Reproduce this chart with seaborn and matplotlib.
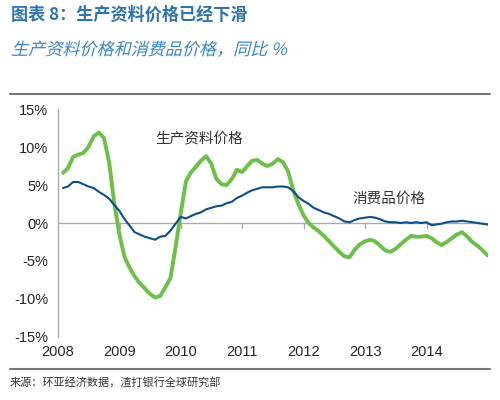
import pandas as pd
import matplotlib
matplotlib.use("Agg")
import matplotlib.pyplot as plt
from matplotlib.textpath import TextPath
from matplotlib.patches import PathPatch
from matplotlib.font_manager import FontProperties
from matplotlib.transforms import Affine2D
import seaborn as sns

# 月度同比 %, 2008-01 .. 2014-12
months = pd.date_range("2008-01-31", periods=84, freq="ME")

producer = [
    6.6, 7.2, 8.7, 9.0, 9.2, 10.0, 11.4, 11.9, 11.2, 8.0, 2.7, -1.5,
    -4.5, -5.8, -7.0, -7.9, -8.6, -9.3, -9.8, -9.6, -8.5, -7.2, -3.2, 1.3,
    5.5, 6.6, 7.4, 8.2, 8.8, 7.8, 5.8, 5.1, 5.0, 5.8, 7.0, 6.7,
    7.5, 8.2, 8.3, 7.8, 7.5, 7.8, 8.4, 8.0, 6.8, 4.3, 2.5, 1.0,
    0.0, -0.6, -1.1, -1.7, -2.4, -3.1, -3.8, -4.4, -4.5, -3.5, -2.8, -2.4,
    -2.2, -2.4, -3.0, -3.6, -3.8, -3.4, -2.8, -2.2, -1.7, -1.8, -1.8, -1.7,
    -2.0, -2.5, -2.9, -2.5, -2.0, -1.5, -1.2, -1.8, -2.5, -3.0, -3.6, -4.3,
]

consumer = [
    4.6, 4.8, 5.4, 5.4, 5.1, 4.8, 4.6, 4.1, 3.7, 3.2, 2.4, 1.6,
    0.5, -0.3, -1.2, -1.5, -1.8, -2.0, -2.2, -1.8, -1.7, -1.0, -0.1, 0.8,
    0.6, 0.9, 1.2, 1.4, 1.8, 2.0, 2.2, 2.3, 2.6, 2.8, 3.3, 3.6,
    4.0, 4.3, 4.5, 4.7, 4.7, 4.7, 4.8, 4.8, 4.7, 4.2, 3.4, 2.9,
    2.5, 2.0, 1.7, 1.4, 1.2, 0.9, 0.6, 0.2, 0.1, 0.4, 0.6, 0.7,
    0.8, 0.7, 0.5, 0.2, 0.1, 0.1, 0.0, 0.1, 0.0, 0.1, 0.0, 0.1,
    -0.3, -0.2, -0.1, 0.1, 0.2, 0.2, 0.3, 0.2, 0.1, 0.0, -0.1, -0.2,
]

years = [2008, 2009, 2010, 2011, 2012, 2013, 2014]
yticks = [-15, -10, -5, 0, 5, 10, 15]

sns.set_style("white")
plt.rcParams["font.family"] = ["Noto Sans CJK SC", "DejaVu Sans"]

df = pd.DataFrame({"date": months, "生产资料价格": producer, "消费品价格": consumer})

fig = plt.figure(figsize=(5, 4), dpi=100)
ax = fig.add_axes([0.116, 0.1575, 0.86, 0.57])

sns.lineplot(data=df, x="date", y="生产资料价格", ax=ax, color="#6cc04a", linewidth=2.8)
sns.lineplot(data=df, x="date", y="消费品价格", ax=ax, color="#0d4f8b", linewidth=1.5)

ax.set_ylim(-15, 15)
ax.set_xlim(pd.Timestamp("2008-01-01"), pd.Timestamp("2015-01-01"))
ax.set_xlabel("")
ax.set_ylabel("")

for s in ["top", "right", "bottom"]:
    ax.spines[s].set_visible(False)
ax.spines["left"].set_color("#aaaaaa")
ax.spines["left"].set_linewidth(1)

ax.set_yticks(yticks)
ax.set_yticklabels([f"{v}%" for v in yticks], fontfamily="Liberation Sans", fontsize=10.5)
ax.tick_params(axis="y", length=4, color="#aaaaaa", width=1, pad=3)

# 0% 参考线 + 年度刻度
ax.axhline(0, color="#aaaaaa", linewidth=1, zorder=0)
tick_dates = [pd.Timestamp(f"{y}-01-01") for y in years + [2015]]
for d in tick_dates[1:]:
    ax.plot([d, d], [0, -0.6], color="#aaaaaa", linewidth=1, zorder=0)

ax.set_xticks([pd.Timestamp(f"{y}-01-01") for y in years])
ax.set_xticklabels([str(y) for y in years], fontfamily="Liberation Sans", fontsize=10.5)
ax.tick_params(axis="x", length=0, pad=6)
ax.grid(False)

ax.text(pd.Timestamp("2009-08-01"), 10.5, "生产资料价格", fontsize=10.5, color="#333333")
ax.text(pd.Timestamp("2012-10-15"), 2.6, "消费品价格", fontsize=10.5, color="#333333")

# 标题与来源
fig.text(0.022, 0.962, "图表 8：生产资料价格已经下滑", fontsize=12.3, fontweight="bold",
         color="#2e75b0", va="center")

# 副标题: CJK 字体无斜体, 用倾斜的文字路径模拟
sub_path = TextPath((0, 0), "生产资料价格和消费品价格，同比 %", size=12.3,
                    prop=FontProperties(family="Noto Sans CJK SC"))
sub_tr = Affine2D().scale(1 / 72).skew_deg(14, 0).translate(0.11, 3.45) + fig.dpi_scale_trans
fig.add_artist(PathPatch(sub_path, transform=sub_tr, facecolor="#3a86c8", edgecolor="none"))

fig.text(0.02, 0.045, "来源：环亚经济数据，渣打银行全球研究部", fontsize=8,
         color="#333333", va="center")

fig.add_artist(plt.Line2D([0.02, 0.98], [0.765, 0.765], color="#777777", linewidth=1.5))
fig.add_artist(plt.Line2D([0.02, 0.98], [0.078, 0.078], color="#777777", linewidth=1.5))

fig.savefig("out.png", dpi=100)
